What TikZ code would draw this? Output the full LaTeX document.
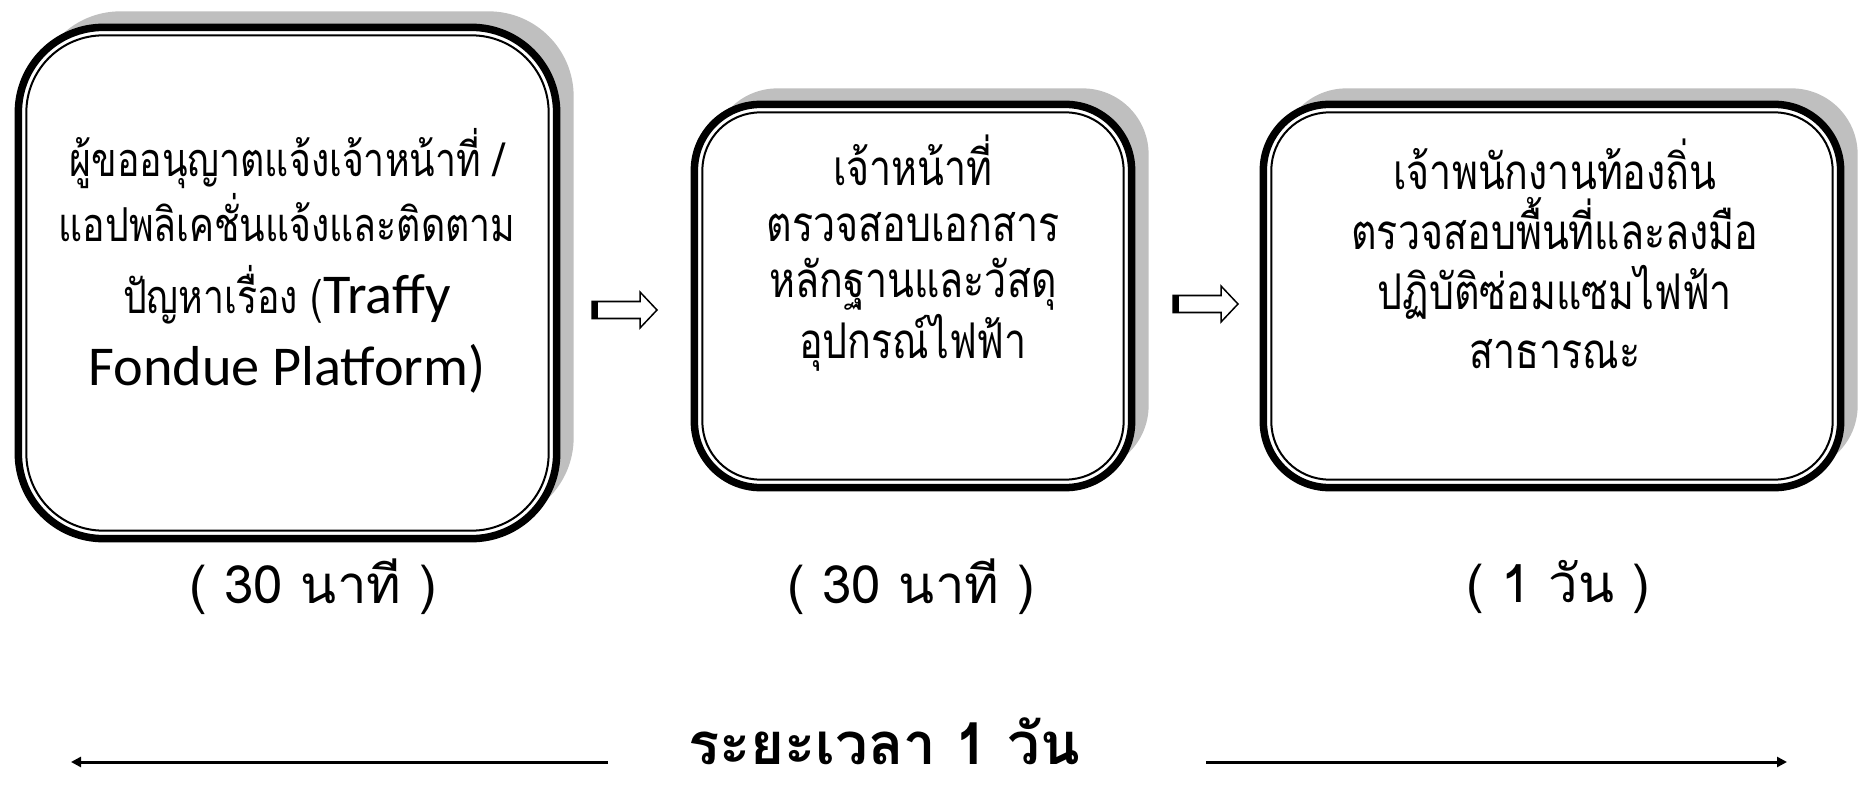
\documentclass[tikz,border=0pt]{standalone}
\usepackage{fontspec}
\newfontfamily\thaifont[Script=Thai]{Loma}
\newfontfamily\thainarrow[Script=Thai, FakeStretch=0.8]{Loma}
\newfontfamily\engfont{Carlito}
\usetikzlibrary{shadows,arrows.meta}
\definecolor{shadowgray}{RGB}{191,191,191}
\tikzset{
  stepbox/.style={draw=black, line width=0.075cm, fill=white, outer sep=0pt, inner sep=0pt,
    drop shadow={shadow xshift=0.17cm, shadow yshift=0.16cm, fill=shadowgray, opacity=1}},
  innerline/.style={draw=black, line width=0.02cm},
  boxtext/.style={align=center, inner sep=0pt, font=\thainarrow\fontsize{14}{#1}\selectfont},
  timetext/.style={inner sep=0pt, font=\thaifont\fontsize{15}{18}\selectfont},
  blockarrow/.style={draw=black, line width=0.015cm, fill=white, line join=miter},
  spanline/.style={line width=0.03cm, -{Triangle[length=0.1cm,width=0.1cm]}}
}
\begin{document}
\begin{tikzpicture}[x=0.01cm,y=0.01cm]
\useasboundingbox (0,0) rectangle (1868,784);
%%% the three steps
\node[stepbox, rounded corners=0.85cm, minimum width=5.38cm, minimum height=5.11cm] (report) at (287.5,501) {};
\node[stepbox, rounded corners=0.66cm, minimum width=4.37cm, minimum height=3.83cm] (check) at (913,488) {};
\node[stepbox, rounded corners=0.66cm, minimum width=5.77cm, minimum height=3.83cm] (repair) at (1552,488) {};
% thin inner border
\draw[innerline, rounded corners=0.77cm] ([shift={(8,8)}]report.south west) rectangle ([shift={(-8,-8)}]report.north east);
\draw[innerline, rounded corners=0.58cm] ([shift={(8,8)}]check.south west) rectangle ([shift={(-8,-8)}]check.north east);
\draw[innerline, rounded corners=0.58cm] ([shift={(8,8)}]repair.south west) rectangle ([shift={(-8,-8)}]repair.north east);
%
\node[boxtext=18.5, font=\thainarrow\fontsize{13.3}{18.5}\selectfont] (reporttext) at (287,523) {ผู้ขออนุญาตแจ้งเจ้าหน้าที่ /\\
แอปพลิเคชั่นแจ้งและติดตาม\\[2pt]
ปัญหาเรื่อง ({\engfont\fontsize{16}{19}\selectfont Traffy}\\[2pt]
{\engfont\fontsize{16}{19}\selectfont Fondue Platform)}};
\node[boxtext=16] (checktext) at (913,531) {เจ้าหน้าที่\\
ตรวจสอบเอกสาร\\
หลักฐานและวัสดุ\\
อุปกรณ์ไฟฟ้า};
\node[boxtext=17] (repairtext) at (1555,530) {เจ้าพนักงานท้องถิ่น\\
ตรวจสอบพื้นที่และลงมือ\\
ปฏิบัติซ่อมแซมไฟฟ้า\\
สาธารณะ};
%%% time of each step
\node[timetext] (reporttime) at (313,197) {( 30 นาที )};
\node[timetext] (checktime) at (911,197) {( 30 นาที )};
\node[timetext] (repairtime) at (1558,197) {( 1 วัน )};
%%% block arrows between the steps
\foreach \x/\y in {592/474,1173/480}{
  \draw[blockarrow] (\x,\y-8.5) -- ++(48,0) -- ++(0,-9.5) -- ++(17,18) -- ++(-17,18)
    -- ++(0,-9.5) -- ++(-48,0) -- cycle;
  \fill[black] (\x,\y-8.5) rectangle ++(6,17);
}
%%% whole duration
\node[inner sep=0pt, font=\thaifont\bfseries\fontsize{16.5}{20}\selectfont] (span) at (884,43) {ระยะเวลา 1 วัน};
\coordinate (leftstart) at (608,22);
\coordinate (leftend) at (71,22);
\coordinate (rightstart) at (1206,22);
\coordinate (rightend) at (1787,22);
\draw[spanline] (leftstart) -- (leftend);
\draw[spanline] (rightstart) -- (rightend);
\end{tikzpicture}
\end{document}
